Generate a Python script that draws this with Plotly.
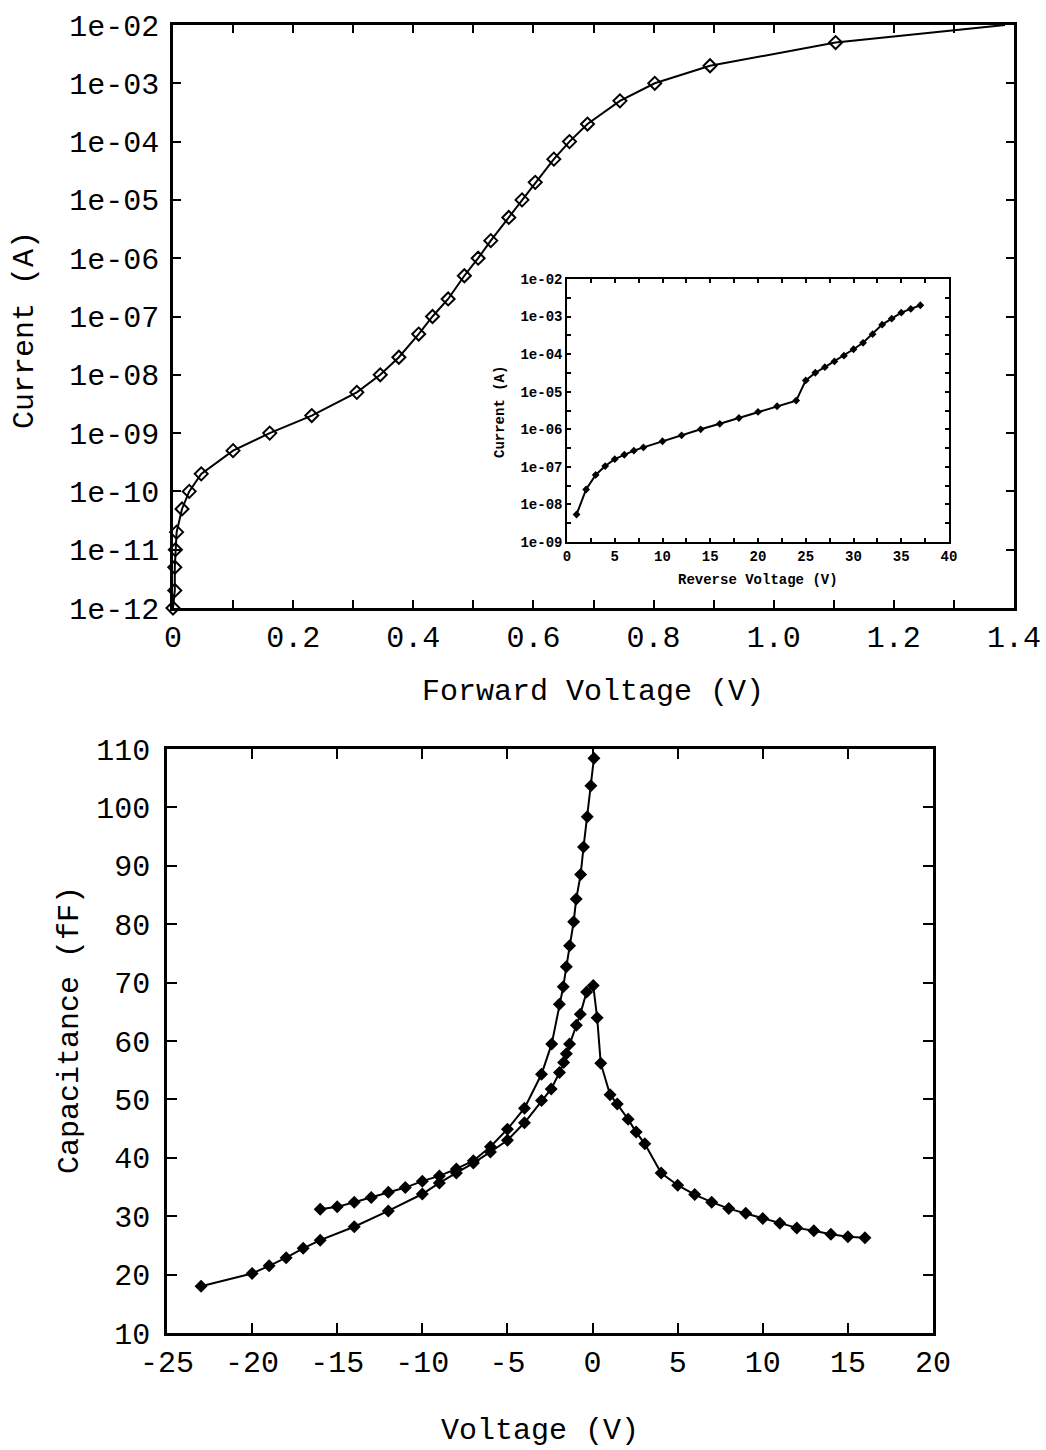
import plotly.graph_objects as go

# ---- Forward I-V characteristic (main top panel) ----
fwd_voltage = [0.0, 0.003, 0.003, 0.004, 0.006, 0.015, 0.027, 0.047, 0.100, 0.161,
               0.231, 0.306, 0.345, 0.376, 0.409, 0.432, 0.458, 0.485, 0.508, 0.529,
               0.559, 0.581, 0.603, 0.634, 0.660, 0.690, 0.744, 0.802, 0.894, 1.103, 1.385]
fwd_current = [1e-12, 2e-12, 5e-12, 1e-11, 2e-11, 5e-11, 1e-10, 2e-10, 5e-10, 1e-9,
               2e-9, 5e-9, 1e-8, 2e-8, 5e-8, 1e-7, 2e-7, 5e-7, 1e-6, 2e-6,
               5e-6, 1e-5, 2e-5, 5e-5, 1e-4, 2e-4, 5e-4, 1e-3, 2e-3, 5e-3, 1e-2]

# ---- Reverse I-V characteristic (inset) ----
rev_voltage = [1, 2, 3, 4, 5, 6, 7, 8, 10, 12, 14, 16, 18, 20, 22, 24, 25, 26, 27, 28,
               29, 30, 31, 32, 33, 34, 35, 36, 37]
rev_current = [5.4e-9, 2.5e-8, 6.1e-8, 1.05e-7, 1.6e-7, 2.1e-7, 2.7e-7, 3.3e-7, 4.8e-7,
               6.9e-7, 1.0e-6, 1.4e-6, 2.0e-6, 2.9e-6, 4.1e-6, 5.8e-6, 2.0e-5, 3.2e-5,
               4.5e-5, 6.4e-5, 9.1e-5, 1.35e-4, 2.0e-4, 3.4e-4, 6.1e-4, 8.8e-4, 1.27e-3,
               1.6e-3, 2.0e-3]

# ---- C-V characteristic (bottom panel) ----
cap_a_voltage = [-16, -15, -14, -13, -12, -11, -10, -9, -8, -7, -6, -5, -4, -3, -2.4,
                 -1.95, -1.72, -1.54, -1.35, -1.11, -0.96, -0.70, -0.53, -0.31, -0.10, 0.08]
cap_a_fF = [31.2, 31.6, 32.4, 33.2, 34.1, 34.9, 36.0, 36.9, 38.1, 39.5, 41.9, 44.9, 48.5,
            54.3, 59.5, 66.3, 69.3, 72.7, 76.3, 80.4, 84.3, 88.5, 93.2, 98.4, 103.7, 108.4]

cap_b_voltage = [-23, -20, -19, -18, -17, -16, -14, -12, -10, -9, -8, -7, -6, -5, -4, -3,
                 -2.43, -1.94, -1.70, -1.54, -1.35, -0.95, -0.72, -0.35, 0.04, 0.27, 0.48,
                 1.03, 1.45, 2.09, 2.56, 3.07, 4.03, 5.0, 6.0, 7.0, 8.0, 9.0, 10.0, 11.0,
                 12.0, 13.0, 14.0, 15.0, 16.0]
cap_b_fF = [18.0, 20.2, 21.5, 22.9, 24.5, 25.9, 28.2, 30.9, 33.8, 35.7, 37.4, 39.1, 41.0,
            43.0, 46.0, 49.8, 51.8, 54.6, 56.3, 57.8, 59.5, 62.7, 64.6, 68.4, 69.5, 64.0,
            56.2, 50.8, 49.2, 46.6, 44.4, 42.4, 37.4, 35.3, 33.7, 32.4, 31.3, 30.5, 29.6,
            28.8, 28.0, 27.5, 26.9, 26.5, 26.3]

# tick labels
fwd_ticks = [0, 0.2, 0.4, 0.6, 0.8, 1.0, 1.2, 1.4]
fwd_tick_text = ["0", "0.2", "0.4", "0.6", "0.8", "1.0", "1.2", "1.4"]
main_decades = list(range(-12, -1))
inset_decades = list(range(-9, -1))
rev_ticks = [0, 5, 10, 15, 20, 25, 30, 35, 40]
cv_x_ticks = [-25, -20, -15, -10, -5, 0, 5, 10, 15, 20]
cv_y_ticks = [10, 20, 30, 40, 50, 60, 70, 80, 90, 100, 110]

W, H = 1046, 1450
FONT = "Liberation Mono, Courier New, monospace"
INK = "black"


def px_x(p):
    return p / W


def px_y(p):
    return 1 - p / H


def exp_label(k):
    return "1e-%02d" % (-k)


fig = go.Figure()

fig.add_trace(go.Scatter(
    x=fwd_voltage, y=fwd_current, mode="lines+markers",
    line=dict(color=INK, width=2),
    marker=dict(symbol="diamond-open", size=10, color=INK, line=dict(width=2, color=INK)),
    xaxis="x", yaxis="y", showlegend=False, cliponaxis=False))

fig.add_trace(go.Scatter(
    x=rev_voltage, y=rev_current, mode="lines+markers",
    line=dict(color=INK, width=2),
    marker=dict(symbol="diamond", size=6, color=INK),
    xaxis="x2", yaxis="y2", showlegend=False))

for xs, ys in ((cap_a_voltage, cap_a_fF), (cap_b_voltage, cap_b_fF)):
    fig.add_trace(go.Scatter(
        x=xs, y=ys, mode="lines+markers",
        line=dict(color=INK, width=2),
        marker=dict(symbol="diamond", size=10, color=INK),
        xaxis="x3", yaxis="y3", showlegend=False))

common = dict(showgrid=False, zeroline=False, showline=True, linecolor=INK,
              linewidth=2.5, mirror="ticks", ticks="inside", tickcolor=INK,
              tickwidth=2, automargin=False, layer="below traces")

main_font = dict(family=FONT, size=30, color=INK)
inset_font = dict(family=FONT, size=14, color=INK, weight="bold")

# x tick values every 0.1, labels every 0.2
fwd_all_ticks = [round(i * 0.1, 1) for i in range(15)]
fwd_all_text = [fwd_tick_text[fwd_ticks.index(v)] if v in fwd_ticks else "" for v in fwd_all_ticks]

inset_y_vals = []
inset_y_text = []
for k in inset_decades:
    inset_y_vals.append(10.0 ** k)
    inset_y_text.append(exp_label(k))
    if k < -2:
        inset_y_vals.append(10.0 ** (k + 0.5))
        inset_y_text.append("")

rev_all_ticks = [i * 2.5 for i in range(17)]
rev_all_text = [str(int(v)) if v in rev_ticks else "" for v in rev_all_ticks]

fig.update_layout(
    width=W, height=H,
    margin=dict(l=0, r=0, t=0, b=0, pad=0, autoexpand=False),
    paper_bgcolor="white", plot_bgcolor="white",
    font=dict(family=FONT, color=INK),
    xaxis=dict(**common, domain=[px_x(173), px_x(1014)], range=[0, 1.4],
               tickvals=fwd_all_ticks, ticktext=fwd_all_text, ticklen=8,
               tickfont=main_font, anchor="y"),
    yaxis=dict(**common, domain=[px_y(608), px_y(25)], type="log", range=[-12, -2],
               tickvals=[10.0 ** k for k in main_decades],
               ticktext=[exp_label(k) for k in main_decades], ticklen=8,
               tickfont=main_font, anchor="x", ticklabelstandoff=5),
    xaxis2=dict(**common, domain=[px_x(567), px_x(949)], range=[0, 40],
                tickvals=rev_all_ticks, ticktext=rev_all_text, ticklen=4,
                tickfont=inset_font, anchor="y2"),
    yaxis2=dict(**common, domain=[px_y(542), px_y(279)], type="log", range=[-9, -2],
                tickvals=inset_y_vals, ticktext=inset_y_text, ticklen=4,
                tickfont=inset_font, anchor="x2"),
    xaxis3=dict(**common, domain=[px_x(167), px_x(933)], range=[-25, 20],
                tickvals=cv_x_ticks, ticktext=[str(v) for v in cv_x_ticks], ticklen=10,
                tickfont=main_font, anchor="y3"),
    yaxis3=dict(**common, domain=[px_y(1333), px_y(749)], range=[10, 110],
                tickvals=cv_y_ticks, ticktext=[str(v) for v in cv_y_ticks], ticklen=10,
                tickfont=main_font, anchor="x3", ticklabelstandoff=8),
)
fig.update_layout(xaxis2_linewidth=1.5, yaxis2_linewidth=1.5,
                  xaxis2_tickwidth=1.5, yaxis2_tickwidth=1.5)

# axis titles
titles = [
    dict(text="Forward Voltage (V)", x=px_x(593), y=px_y(692), size=30, angle=0, weight="normal"),
    dict(text="Current (A)", x=px_x(25), y=px_y(330), size=30, angle=-90, weight="normal"),
    dict(text="Reverse Voltage (V)", x=px_x(758), y=px_y(580), size=14, angle=0, weight="bold"),
    dict(text="Current (A)", x=px_x(500), y=px_y(412), size=14, angle=-90, weight="bold"),
    dict(text="Voltage (V)", x=px_x(540), y=px_y(1431), size=30, angle=0, weight="normal"),
    dict(text="Capacitance (fF)", x=px_x(70), y=px_y(1030), size=30, angle=-90, weight="normal"),
]
for t in titles:
    fig.add_annotation(text=t["text"], x=t["x"], y=t["y"], xref="paper", yref="paper",
                       xanchor="center", yanchor="middle", showarrow=False,
                       textangle=t["angle"],
                       font=dict(family=FONT, size=t["size"], color=INK, weight=t["weight"]))

fig.write_html("out.html")
